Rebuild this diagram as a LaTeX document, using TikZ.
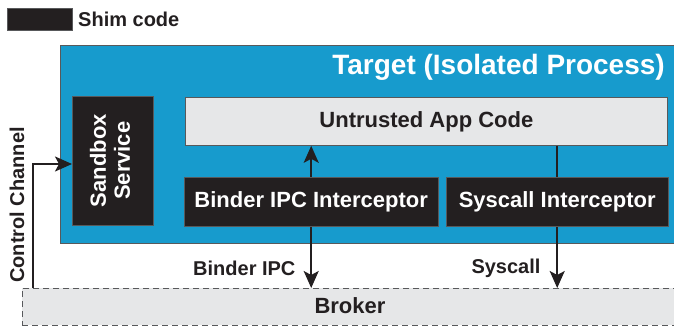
\documentclass[tikz,border=0pt]{standalone}
\usepackage{fontspec}
\setmainfont{Liberation Sans}
\usetikzlibrary{arrows.meta}
\definecolor{ocean}{HTML}{179BCD}
\definecolor{ink}{HTML}{231F20}
\definecolor{mist}{HTML}{E6E7E8}
\definecolor{slate}{HTML}{58595B}

\begin{document}
\begin{tikzpicture}[x=1pt,y=-1pt,font=\bfseries\fontsize{22}{26}\selectfont,
  shimbox/.style={fill=ink,draw=slate,text=white,inner sep=0pt,anchor=north west},
  appbox/.style={fill=mist,draw=slate,line width=0.8pt,text=ink,inner sep=0pt,anchor=north west},
  small/.style={font=\bfseries\fontsize{20}{24}\selectfont,text=ink,inner sep=0pt},
  flow/.style={draw=ink,line width=2pt,-{Stealth[length=17pt,width=15pt,inset=4pt]}}]
  \clip (0,0) rectangle (674,326);
  % legend
  \node[shimbox,minimum width=65,minimum height=22] (legend) at (7,8) {};
  \node[small,anchor=west] (legendtext) at (78,19.5) {Shim code};
  % target process
  \node[fill=ocean,draw=slate,line width=0.8pt,anchor=north west,
        minimum width=660,minimum height=198] (target) at (60,45) {};
  \node[text=white,anchor=base east,inner sep=0pt,
        font=\bfseries\fontsize{28}{32}\selectfont] (title) at (665,75)
       {Target (Isolated Process)};
  \node[appbox,minimum width=482,minimum height=48] (app) at (185,97)
       {Untrusted App Code};
  % broker
  \node[fill=mist,draw=slate,dashed,dash pattern=on 6pt off 4pt,line width=0.9pt,
        anchor=north west,minimum width=700,minimum height=37] (broker) at (22,288) {};
  \node[text=ink,inner sep=0pt] (brokertext) at (350,306) {Broker};
  % interceptors (drawn over the arrows)
  \coordinate (bend) at (33,164);
  \node[inner sep=0pt,anchor=north west,minimum width=254,minimum height=49] (binder) at (184,177) {};
  \node[inner sep=0pt,anchor=north west,minimum width=222,minimum height=49] (syscall) at (446,177) {};
  \draw[flow,{Stealth[length=17pt,width=15pt,inset=4pt]}-{Stealth[length=17pt,width=15pt,inset=4pt]}]
    (binder.north |- app.south) -- (binder.south |- broker.north);
  \draw[flow] (syscall.north |- app.south) -- (syscall.south |- broker.north);
  \node[shimbox,minimum width=254,minimum height=49] at (binder.north west) {Binder IPC Interceptor};
  \node[shimbox,minimum width=222,minimum height=49] at (syscall.north west) {Syscall Interceptor};
  \node[shimbox,minimum width=81,minimum height=129] (sandbox) at (72,96)
       {\rotatebox{90}{\begin{tabular}{@{}c@{}}Sandbox\\[-2pt]Service\end{tabular}}};
  % control channel
  \draw[flow] (broker.north -| bend) -- (bend) -- (sandbox.west |- bend);
  \node[small,rotate=90] (ctrltext) at (17,205) {Control Channel};
  \node[small,anchor=west] (bindertext) at (193,268) {Binder IPC};
  \node[small] (syscalltext) at (506,268) {Syscall};
\end{tikzpicture}
\end{document}
